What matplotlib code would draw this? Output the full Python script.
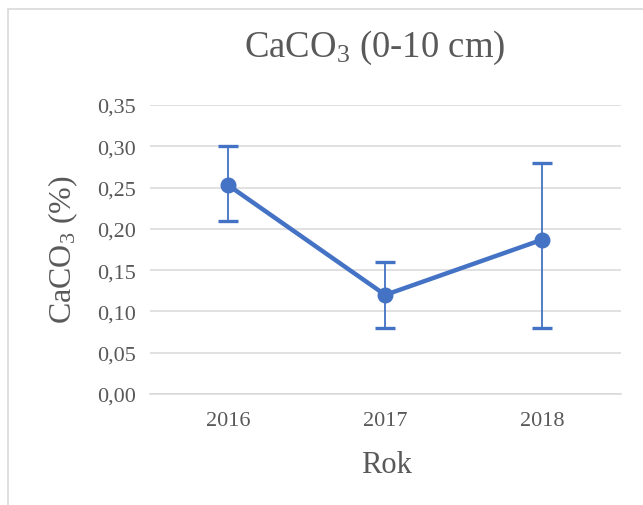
import matplotlib
matplotlib.use("Agg")
import matplotlib.pyplot as plt
from matplotlib.patches import Rectangle
from matplotlib.ticker import FuncFormatter, MultipleLocator

years = ["2016", "2017", "2018"]
values = [0.253, 0.120, 0.187]
err_low = [0.210, 0.080, 0.080]
err_high = [0.300, 0.160, 0.280]

title = r"CaCO$\mathregular{_3}$ (0-10 cm)"
ylabel = r"CaCO$\mathregular{_3}$ (%)"
xlabel = "Rok"

plt.rcParams["font.family"] = ["Liberation Serif", "DejaVu Serif"]
plt.rcParams["mathtext.fontset"] = "custom"
plt.rcParams["mathtext.rm"] = "Liberation Serif"

W, H = 643, 506
fig = plt.figure(figsize=(W / 100, H / 100), dpi=100)
fig.patch.set_facecolor("white")

# outer chart border
fig.add_artist(Rectangle((8 / W, -0.1), 1.2, 1 - 10 / H + 0.1, transform=fig.transFigure,
                         fill=False, edgecolor="#D9D9D9", linewidth=1.2))

left, right = 149.5, 621
bottom, top = 395, 106
ax = fig.add_axes([left / W, 1 - bottom / H, (right - left) / W, (bottom - top) / H])

x = list(range(len(years)))
yerr = [[v - lo for v, lo in zip(values, err_low)],
        [hi - v for v, hi in zip(values, err_high)]]

color = "#4472C4"
ax.errorbar(x, values, yerr=yerr, fmt="none", ecolor=color, elinewidth=1.3,
            capsize=7, capthick=2.4, zorder=3)
ax.plot(x, values, color=color, linewidth=3.2, marker="o", markersize=10.5, zorder=4)

ax.set_xlim(-0.5, len(years) - 0.5)
ax.set_ylim(0, 0.35)
ax.yaxis.set_major_locator(MultipleLocator(0.05))
ax.yaxis.set_major_formatter(FuncFormatter(lambda v, p: f"{v:.2f}".replace(".", ",")))
ax.set_xticks(x)
ax.set_xticklabels(years)

ax.grid(axis="y", color="#D9D9D9", linewidth=1.1)
ax.set_axisbelow(True)
for s in ["top", "right", "left"]:
    ax.spines[s].set_visible(False)
ax.spines["bottom"].set_color("#D9D9D9")
ax.spines["bottom"].set_linewidth(1.1)
ax.tick_params(axis="both", length=0, labelsize=16, labelcolor="#595959")
ax.tick_params(axis="y", pad=10)
ax.tick_params(axis="x", pad=12)

fig.text(374.5 / W, 1 - 57 / H, title, ha="center", va="baseline", fontsize=26.5, color="#595959")
fig.text(387 / W, 1 - 473 / H, xlabel, ha="center", va="baseline", fontsize=22, color="#595959")
fig.text(63 / W, 1 - 250 / H, ylabel, ha="center", va="center", rotation=90, fontsize=23, color="#595959")

fig.savefig("out.png", dpi=100)
